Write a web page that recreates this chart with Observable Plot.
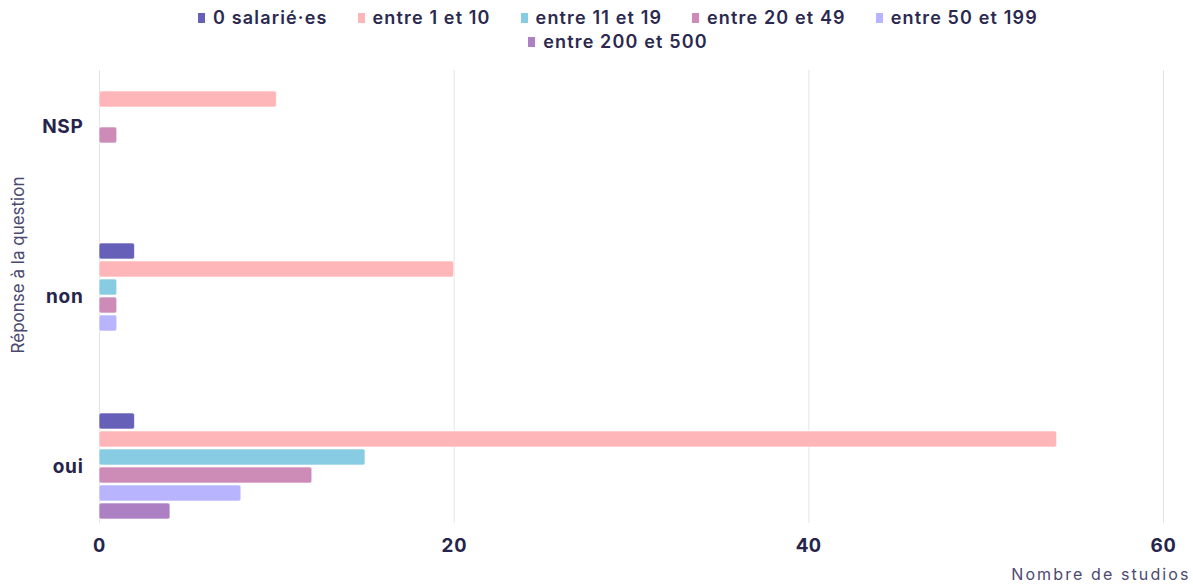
<!DOCTYPE html>
<html>
<head>
<meta charset="utf-8">
<script src="https://cdn.jsdelivr.net/npm/d3@7"></script>
<script src="https://cdn.jsdelivr.net/npm/@observablehq/plot@0.6"></script>
<style>
  html, body { margin: 0; padding: 0; background: #fff; }
  body { width: 1193px; font-family: Inter, "Noto Sans", sans-serif; }
  #legend { height: 56px; box-sizing: border-box; padding-top: 7px; }
  .lg-swatches-wrap {
    justify-content: center; width: 880px; margin: 0 0 0 193px;
    font-family: Inter, "Noto Sans", sans-serif; font-size: 18px; font-weight: 600;
    letter-spacing: 1.15px; color: #2b2950; min-height: 0; row-gap: 2px;
  }
  .lg-swatches-wrap .lg-swatch { margin-right: 30px; line-height: 22px; }
  .lg-swatch > svg { margin-right: 8px; }
  g[aria-label="fy-axis tick label"] text { font-weight: 700; font-size: 19px; letter-spacing: 0.7px; fill: #26244a; }
  g[aria-label="x-axis tick label"] text { font-weight: 700; font-size: 19px; letter-spacing: 0.6px; fill: #26244a; }
  g[aria-label="x-axis label"] text { font-size: 16px; letter-spacing: 2.1px; fill: #4b4970; }
</style>
</head>
<body>
<div id="legend"></div>
<div id="chart"></div>
<script>
// Réponses à la question, de haut en bas
const questions = ["NSP", "non", "oui"];

// Taille des studios (nombre de salarié·es)
const series = ["0 salarié·es", "entre 1 et 10", "entre 11 et 19", "entre 20 et 49", "entre 50 et 199", "entre 200 et 500"];
const colors = ["#6760b8", "#ffb6b8", "#88cce4", "#cd8cb8", "#b8b4fd", "#ad80c4"];

// Nombre de studios par taille, pour chaque réponse (null = aucun studio)
const valuesNSP = [null, 10, null, 1, null, null];
const valuesNon = [2, 20, 1, 1, 1, null];
const valuesOui = [2, 54, 15, 12, 8, 4];

const xTicks = [0, 20, 40, 60];

const byQuestion = {NSP: valuesNSP, non: valuesNon, oui: valuesOui};
const rows = questions.flatMap(q =>
  series.map((s, i) => ({question: q, series: s, value: byQuestion[q][i]}))
        .filter(d => d.value != null)
);

document.getElementById("legend").append(
  Plot.legend({
    color: {type: "ordinal", domain: series, range: colors},
    swatchWidth: 7,
    swatchHeight: 10,
    className: "lg"
  })
);

// Vertical grid lines drawn in each facet, stretched across the gaps between facets
const halfGap = 29;
const gridLines = (q, insetTop, insetBottom) =>
  Plot.ruleX(xTicks, {fy: xTicks.map(() => q), stroke: "#e4e4e8", strokeWidth: 1, insetTop, insetBottom});

const chart = Plot.plot({
  width: 1193,
  height: 529,
  marginTop: 13,
  marginBottom: 60,
  marginLeft: 99,
  marginRight: 30,
  style: {fontFamily: "Inter, 'Noto Sans', sans-serif", background: "transparent", color: "#26244a"},
  x: {
    domain: [0, 60],
    ticks: xTicks,
    tickSize: 0,
    tickPadding: 15,
    label: "Nombre de studios",
    labelAnchor: "right",
    labelArrow: "none",
    labelOffset: 56
  },
  y: {domain: series, axis: null, paddingInner: 0.1, paddingOuter: 0.05},
  fy: {
    domain: questions,
    axis: "left",
    paddingInner: 0.333,
    paddingOuter: 0,
    tickSize: 0,
    tickPadding: 16,
    label: null
  },
  color: {domain: series, range: colors},
  marks: [
    gridLines("NSP", 0, -halfGap),
    gridLines("non", -halfGap, -halfGap),
    gridLines("oui", -halfGap, 0),
    Plot.barX(rows, {
      x: "value",
      y: "series",
      fy: "question",
      fill: "series",
      stroke: "#ffffff",
      strokeOpacity: 0.6,
      rx: 2
    }),
    Plot.text(["Réponse à la question"], {
      frameAnchor: "left",
      textAnchor: "middle",
      rotate: -90,
      dx: -81,
      dy: -32,
      facet: "super",
      fontSize: 17,
      letterSpacing: 2.2,
      fill: "#4b4970"
    })
  ]
});
document.getElementById("chart").append(chart);
</script>
</body>
</html>
